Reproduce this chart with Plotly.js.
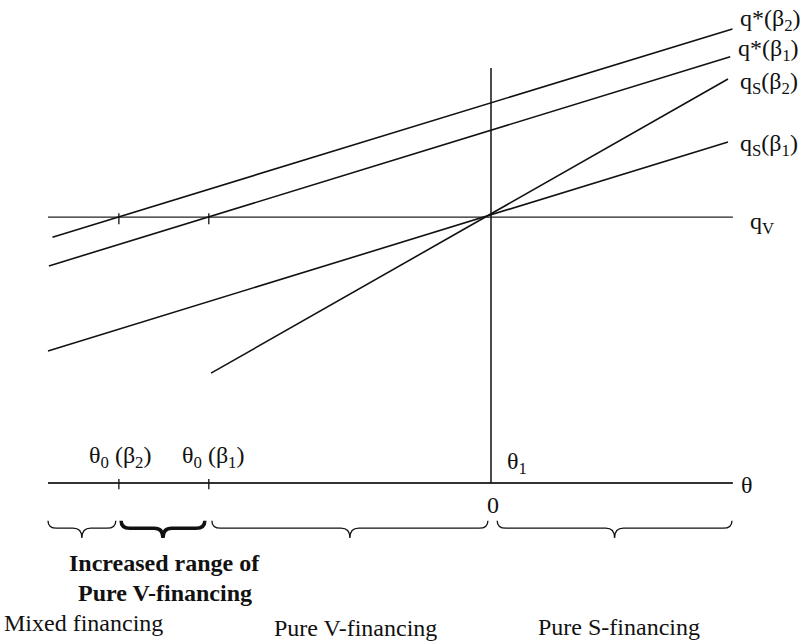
<!DOCTYPE html>
<html>
<head>
<meta charset="utf-8">
<script src="https://cdn.plot.ly/plotly-3.0.1.min.js"></script>
<style>html,body{margin:0;padding:0;background:#fff;}#chart{width:810px;height:642px;}</style>
</head>
<body>
<div id="chart"></div>
<script>
// ---- data (θ on x, q on y) ----
var thetaAxisRange = [-10.0, 5.46];
var qV = 6.0;
var qVRange = [-10.0, 5.46];
var theta1Line = { theta: 0, qTop: 9.37 };

var qStarB2Theta = [-9.9, 5.45];
var qStarB2Q     = [5.55, 10.25];
var qStarB1Theta = [-9.98, 5.4];
var qStarB1Q     = [4.9, 9.62];
var qSB2Theta    = [-6.32, 5.35];
var qSB2Q        = [2.48, 9.12];
var qSB1Theta    = [-10.0, 5.35];
var qSB1Q        = [2.98, 7.7];

var theta0B2 = -8.40;
var theta0B1 = -6.37;

// brace ranges: [start, end, bold]
var braceStarts = [-10.0, -8.35, -6.30, 0.14];
var braceEnds   = [-8.47, -6.46, -0.07, 5.44];
var braceBold   = [false, true, false, false];

var lineColor = '#111';
var font = {family: 'Liberation Serif', size: 24, color: '#111'};

function seg(x, y, w, c) {
  return {type: 'scatter', mode: 'lines', x: x, y: y, hoverinfo: 'skip', showlegend: false,
          line: {color: c || lineColor, width: w || 1.5}};
}

var traces = [
  seg(thetaAxisRange, [0, 0], 1.8, '#333'),
  seg(qVRange, [qV, qV], 1.3, '#222'),
  seg([theta1Line.theta, theta1Line.theta], [0, theta1Line.qTop], 1.5),
  seg(qStarB2Theta, qStarB2Q, 1.6),
  seg(qStarB1Theta, qStarB1Q, 1.6),
  seg(qSB2Theta, qSB2Q, 1.6),
  seg(qSB1Theta, qSB1Q, 1.6),
  // ticks at θ0 values on θ axis and on qV line
  seg([theta0B2, theta0B2], [-0.14, 0.09], 1.3),
  seg([theta0B1, theta0B1], [-0.14, 0.09], 1.3),
  seg([theta0B2, theta0B2], [qV - 0.16, qV + 0.09], 1.3),
  seg([theta0B1, theta0B1], [qV - 0.16, qV + 0.09], 1.3)
];

// braces
var yTop = -0.85, yLine = -1.02, yTip = -1.24, r = 0.2;
var shapes = [];
for (var i = 0; i < braceStarts.length; i++) {
  var a = braceStarts[i], b = braceEnds[i], m = (a + b) / 2;
  var p = 'M' + a + ',' + yTop +
          ' Q' + a + ',' + yLine + ' ' + (a + r) + ',' + yLine +
          ' L' + (m - r) + ',' + yLine +
          ' Q' + m + ',' + yLine + ' ' + m + ',' + yTip +
          ' Q' + m + ',' + yLine + ' ' + (m + r) + ',' + yLine +
          ' L' + (b - r) + ',' + yLine +
          ' Q' + b + ',' + yLine + ' ' + b + ',' + yTop;
  shapes.push({type: 'path', xref: 'x', yref: 'y', path: p,
               line: {color: lineColor, width: braceBold[i] ? 3.5 : 1.3}});
}

function ann(text, x, y, xa, bold) {
  return {text: bold ? '<b>' + text + '</b>' : text, x: x, y: y, xref: 'x', yref: 'y',
          xanchor: xa || 'center', yanchor: 'middle', showarrow: false, font: font};
}

var annotations = [
  ann('q*(β<sub>2</sub>)', 5.58, 10.45, 'left'),
  ann('q*(β<sub>1</sub>)', 5.53, 9.77, 'left'),
  ann('q<sub>S</sub>(β<sub>2</sub>)', 5.58, 9.03, 'left'),
  ann('q<sub>S</sub>(β<sub>1</sub>)', 5.58, 7.63, 'left'),
  ann('q<sub>V</sub>', 5.8, 5.87, 'left'),
  ann('θ', 5.78, -0.05),
  ann('0', 0.05, -0.5),
  ann('θ<sub>1</sub>', 0.59, 0.45),
  ann('θ<sub>0</sub> (β<sub>2</sub>)', -8.37, 0.59),
  ann('θ<sub>0</sub> (β<sub>1</sub>)', -6.28, 0.59),
  ann('Increased range of', -7.36, -1.81, 'center', true),
  ann('Pure V-financing', -7.36, -2.48, 'center', true),
  ann('Mixed financing', -11.03, -3.16, 'left'),
  ann('Pure V-financing', -3.07, -3.27),
  ann('Pure S-financing', 2.89, -3.25)
];

var layout = {
  width: 810, height: 642,
  margin: {l: 0, r: 0, t: 0, b: 0},
  paper_bgcolor: '#fff', plot_bgcolor: '#fff',
  xaxis: {range: [-491 / 44.3, 319 / 44.3], visible: false, fixedrange: true},
  yaxis: {range: [-159 / 44.3, 483 / 44.3], visible: false, fixedrange: true},
  shapes: shapes,
  annotations: annotations,
  showlegend: false
};

Plotly.newPlot('chart', traces, layout, {staticPlot: true, displayModeBar: false});
</script>
</body>
</html>
